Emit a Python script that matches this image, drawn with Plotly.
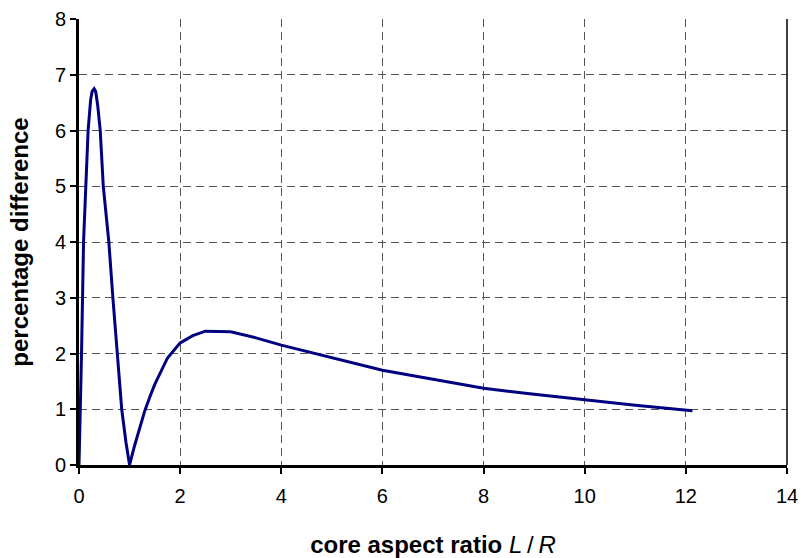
import plotly.graph_objects as go

# core aspect ratio L/R
aspect_ratio = [0, 0.03, 0.05, 0.09, 0.13, 0.18, 0.23, 0.26, 0.30, 0.33, 0.37, 0.42, 0.48,
                0.59, 0.67, 0.75, 0.845, 0.93, 1.0, 1.1, 1.2, 1.3, 1.4, 1.5,
                1.75, 2.0, 2.25, 2.5, 3.0, 3.5, 4.0, 4.5, 5.0, 6.0, 7.0, 8.0,
                9.0, 10.0, 11.0, 12.13]
# percentage difference
pct_diff = [0, 1.0, 2.0, 4.0, 5.0, 6.0, 6.55, 6.7, 6.75, 6.7, 6.45, 6.0, 5.0,
            4.0, 3.0, 2.0, 1.0, 0.4, 0.0, 0.35, 0.65, 0.97, 1.22, 1.45,
            1.92, 2.19, 2.32, 2.40, 2.39, 2.28, 2.15, 2.04, 1.93, 1.70, 1.54, 1.375,
            1.27, 1.165, 1.07, 0.975]

x_ticks = [0, 2, 4, 6, 8, 10, 12, 14]
y_ticks = [0, 1, 2, 3, 4, 5, 6, 7, 8]

font_family = "Liberation Sans, Arial, sans-serif"

fig = go.Figure()
fig.add_trace(go.Scatter(
    x=aspect_ratio, y=pct_diff, mode="lines",
    line=dict(color="#000080", width=3),
    showlegend=False,
))

grid = dict(showgrid=True, gridcolor="#555555", griddash="8px,5px", gridwidth=1)

fig.update_layout(
    width=801, height=558,
    margin=dict(l=79, r=14, t=19, b=93),
    paper_bgcolor="white", plot_bgcolor="white",
    font=dict(family=font_family, size=20, color="black"),
    xaxis=dict(
        range=[0, 14], tickvals=x_ticks, ticktext=[str(v) for v in x_ticks],
        showline=True, linecolor="black", linewidth=3,
        ticks="outside", ticklen=6, tickwidth=2, tickcolor="black",
        ticklabelstandoff=5,
        zeroline=False, automargin=False,
        title=dict(text="<b>core aspect ratio</b> <i>L</i>\u2009/\u2009<i>R</i>",
                   font=dict(size=24), standoff=32),
        **grid,
    ),
    yaxis=dict(
        range=[0, 8], tickvals=y_ticks, ticktext=[str(v) for v in y_ticks],
        showline=True, linecolor="black", linewidth=3,
        ticks="outside", ticklen=6, tickwidth=2, tickcolor="black",
        zeroline=False, automargin=False,
        title=dict(text="<b>percentage difference</b>", font=dict(size=24),
                   standoff=20),
        **grid,
    ),
)

# thin frame on the right edge of the plot area
fig.add_shape(type="line", xref="paper", yref="paper", x0=1, x1=1, y0=0, y1=1,
              line=dict(color="black", width=1.5))

fig.write_html("out.html")
